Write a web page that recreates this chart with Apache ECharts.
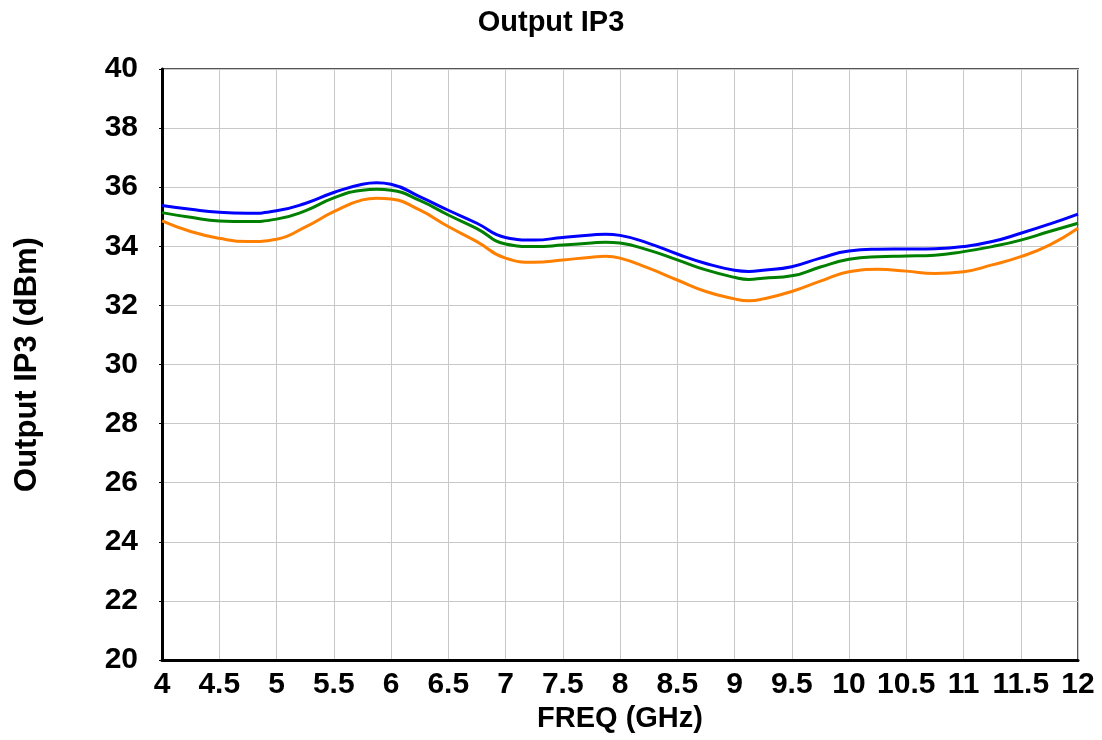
<!DOCTYPE html>
<html>
<head>
<meta charset="utf-8">
<script src="https://cdn.jsdelivr.net/npm/echarts@6/dist/echarts.min.js"></script>
<style>
  html, body { margin: 0; padding: 0; background: #fff; }
  #chart { width: 1102px; height: 740px; }
</style>
</head>
<body>
<div id="chart"></div>
<script>
// Frequency sweep, GHz (extra points near the ripple peaks and dips)
const freq = [4, 4.25, 4.5, 4.75, 5, 5.25, 5.5, 5.75, 5.875, 6, 6.25, 6.5, 6.75, 7, 7.25, 7.5, 7.75, 7.875,
  8, 8.25, 8.5, 8.75, 9, 9.125, 9.25, 9.5, 9.75, 10, 10.25, 10.5, 10.75, 11, 11.25, 11.5, 11.75, 12];

// Output IP3 traces, dBm
const oip3Blue = [35.38, 35.25, 35.15, 35.12, 35.2, 35.45, 35.82, 36.1, 36.15, 36.1, 35.68, 35.22, 34.78,
  34.3, 34.21, 34.3, 34.38, 34.41, 34.37, 34.1, 33.74, 33.42, 33.19, 33.15, 33.19, 33.31, 33.6, 33.84,
  33.9, 33.91, 33.92, 33.99, 34.16, 34.44, 34.75, 35.09];
const oip3Green = [35.14, 34.98, 34.86, 34.84, 34.92, 35.2, 35.64, 35.9, 35.93, 35.9, 35.55, 35.06, 34.6,
  34.08, 33.99, 34.04, 34.11, 34.14, 34.11, 33.87, 33.54, 33.2, 32.95, 32.88, 32.92, 33.0, 33.3, 33.56,
  33.65, 33.67, 33.7, 33.82, 33.99, 34.21, 34.5, 34.78];
const oip3Orange = [34.86, 34.5, 34.27, 34.16, 34.24, 34.65, 35.17, 35.57, 35.63, 35.6, 35.23, 34.67, 34.16,
  33.6, 33.46, 33.54, 33.63, 33.66, 33.6, 33.26, 32.86, 32.47, 32.22, 32.16, 32.22, 32.47, 32.82, 33.14,
  33.22, 33.16, 33.08, 33.14, 33.37, 33.65, 34.04, 34.61];

const pair = ys => freq.map((f, i) => [f, ys[i]]);
const FONT = '"Liberation Sans", Arial, sans-serif';

const chart = echarts.init(document.getElementById('chart'), null, { renderer: 'canvas' });

const line = (name, color, ys) => ({
  name, type: 'line', data: pair(ys), showSymbol: false, smooth: 0.5,
  lineStyle: { color, width: 3 }, itemStyle: { color }, z: 3
});

chart.setOption({
  backgroundColor: '#ffffff',
  animation: false,
  title: {
    text: 'Output IP3', left: 'center', top: 3,
    textStyle: { fontFamily: FONT, fontWeight: 'bold', fontSize: 29, color: '#000' }
  },
  grid: {
    left: 162, right: 24, top: 69, bottom: 80,
    outerBoundsMode: 'none', containLabel: false,
    show: true, borderColor: '#555', borderWidth: 2
  },
  xAxis: {
    type: 'value', min: 4, max: 12, interval: 0.5,
    name: 'FREQ (GHz)', nameLocation: 'middle', nameGap: 44,
    nameTextStyle: { fontFamily: FONT, fontWeight: 'bold', fontSize: 29, color: '#000' },
    axisLine: { show: true, lineStyle: { color: '#000', width: 3 } },
    axisTick: { show: false },
    axisLabel: { fontFamily: FONT, fontWeight: 'bold', fontSize: 30, color: '#000', margin: 10 },
    splitLine: { show: true, lineStyle: { color: '#c8c8c8', width: 1 } }
  },
  yAxis: {
    type: 'value', min: 20, max: 40, interval: 2,
    name: 'Output IP3 (dBm)', nameLocation: 'middle', nameGap: 119,
    nameTextStyle: { fontFamily: FONT, fontWeight: 'bold', fontSize: 31, color: '#000' },
    axisLine: { show: true, lineStyle: { color: '#000', width: 3 } },
    axisTick: { show: true, length: 3, lineStyle: { color: '#000', width: 1 } },
    axisLabel: { fontFamily: FONT, fontWeight: 'bold', fontSize: 30, color: '#000', margin: 24 },
    splitLine: { show: true, lineStyle: { color: '#c8c8c8', width: 1 } }
  },
  series: [
    line('Orange', '#ff8000', oip3Orange),
    line('Green', '#008000', oip3Green),
    line('Blue', '#0000ff', oip3Blue)
  ]
});
</script>
</body>
</html>
